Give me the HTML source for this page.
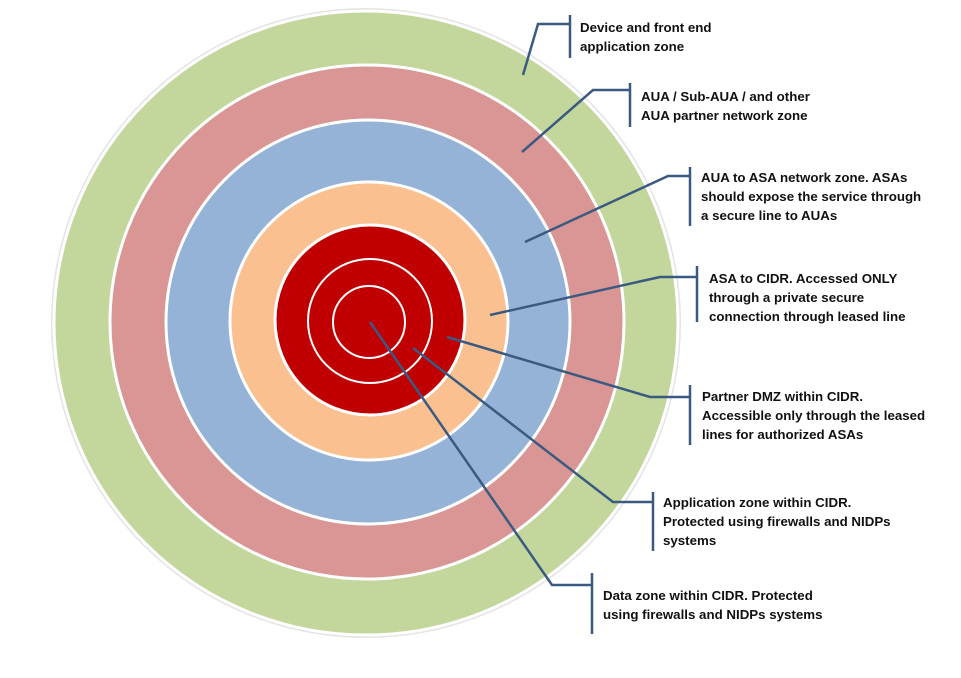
<!DOCTYPE html>
<html><head><style>
body{margin:0;background:#fff;width:961px;height:673px;overflow:hidden}
svg text{font-family:"Liberation Sans",sans-serif;font-weight:bold;font-size:13.3px;fill:#111;letter-spacing:0px}
</style></head><body>
<svg width="961" height="673" viewBox="0 0 961 673">
<circle cx="366" cy="323" r="314" fill="none" stroke="#e4e4e4" stroke-width="2"/>
<g stroke="#fff" stroke-width="3">
<circle cx="366" cy="323" r="312" fill="#c3d69b"/>
<circle cx="367" cy="322" r="257" fill="#d99694"/>
<circle cx="368" cy="322" r="202" fill="#95b3d7"/>
<circle cx="369" cy="321" r="139" fill="#fac090"/>
<circle cx="370" cy="320" r="95" fill="#c00000"/>
<circle cx="370" cy="321" r="62" fill="none" stroke-width="2"/>
<circle cx="369" cy="322" r="36" fill="none" stroke-width="2"/>
</g>
<g stroke="#3b5a82" stroke-width="2.5" fill="none">
<polyline points="523,75 538,24 570,24"/><line x1="570" y1="15" x2="570" y2="58"/>
<polyline points="522,152 593,90 630,90"/><line x1="630" y1="83" x2="630" y2="127"/>
<polyline points="525,242 668,176 690,176"/><line x1="690" y1="167" x2="690" y2="226"/>
<polyline points="490,315 660,277 697,277"/><line x1="697" y1="266" x2="697" y2="322"/>
<polyline points="447,337 650,397 690,397"/><line x1="690" y1="385" x2="690" y2="445"/>
<polyline points="413,348 613,502 653,502"/><line x1="653" y1="492" x2="653" y2="551"/>
<polyline points="370,322 552,585 592,585"/><line x1="592" y1="573" x2="592" y2="634"/>
</g>
<text x="580" y="32">Device and front end</text>
<text x="580" y="51">application zone</text>
<text x="641" y="101">AUA / Sub-AUA / and other</text>
<text x="641" y="120">AUA partner network zone</text>
<text x="701" y="182">AUA to ASA network zone.  ASAs</text>
<text x="701" y="201">should expose the service through</text>
<text x="701" y="220">a secure line to AUAs</text>
<text x="709" y="283">ASA to CIDR. Accessed ONLY</text>
<text x="709" y="302">through a private secure</text>
<text x="709" y="321">connection through leased line</text>
<text x="702" y="401">Partner DMZ within CIDR.</text>
<text x="702" y="420">Accessible only through the leased</text>
<text x="702" y="439">lines for authorized ASAs</text>
<text x="663" y="507">Application zone within CIDR.</text>
<text x="663" y="526">Protected using firewalls and NIDPs</text>
<text x="663" y="545">systems</text>
<text x="603" y="600">Data zone within CIDR. Protected</text>
<text x="603" y="619">using firewalls and NIDPs systems</text>
</svg>
</body></html>
